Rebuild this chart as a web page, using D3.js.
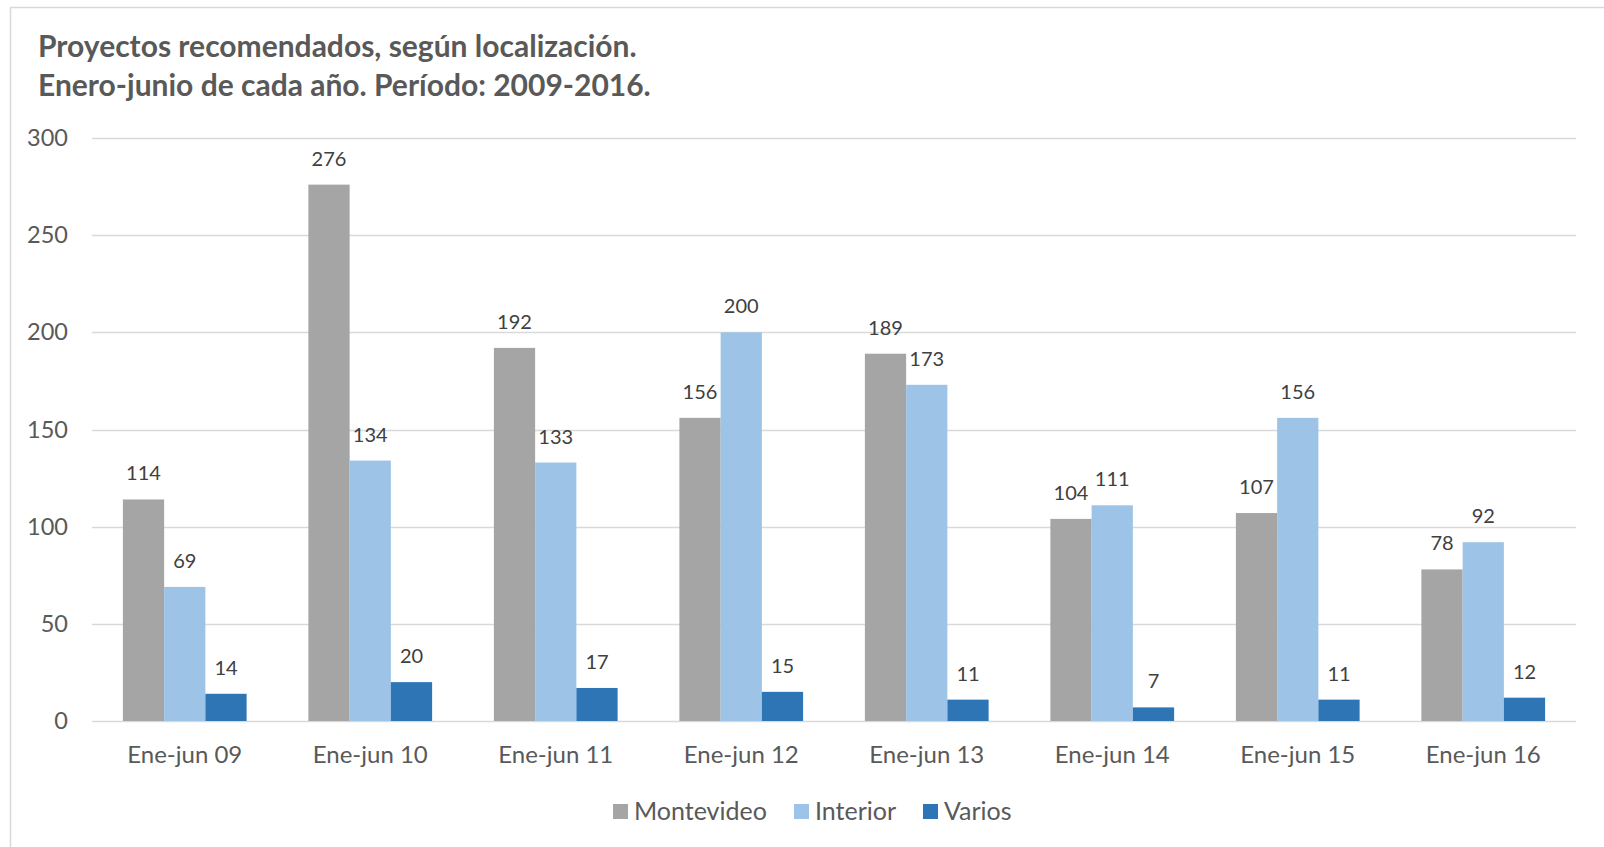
<!DOCTYPE html>
<html>
<head>
<meta charset="utf-8">
<script src="https://cdn.jsdelivr.net/npm/d3@7"></script>
<style>
  body { margin: 0; background: #fff; }
  svg { display: block; font-family: Lato, "Open Sans", sans-serif; }
</style>
</head>
<body>
<svg id="chart" width="1604" height="847"></svg>
<script>
"use strict";

const categories = ["Ene-jun 09", "Ene-jun 10", "Ene-jun 11", "Ene-jun 12", "Ene-jun 13", "Ene-jun 14", "Ene-jun 15", "Ene-jun 16"];
const seriesNames = ["Montevideo", "Interior", "Varios"];
const montevideo = [114, 276, 192, 156, 189, 104, 107, 78];
const interior = [69, 134, 133, 200, 173, 111, 156, 92];
const varios = [14, 20, 17, 15, 11, 7, 11, 12];
const yTicks = [0, 50, 100, 150, 200, 250, 300];
const titleLines = ["Proyectos recomendados, según localización.", "Enero-junio de cada año. Período: 2009-2016."];

const colors = ["#A5A5A5", "#9DC3E6", "#2E75B6"];
const seriesValues = [montevideo, interior, varios];

let svg = d3.select("#chart"),
  margin = {top: 138, right: 28, bottom: 126, left: 92},
  width = 1604 - margin.left - margin.right,
  height = 847 - margin.top - margin.bottom
;

// chart frame (runs off the right / bottom edges in the original)
svg.append("rect")
  .attr("x", 10.5).attr("y", 7.5)
  .attr("width", 1700).attr("height", 900)
  .attr("fill", "#fff")
  .attr("stroke", "#D9D9D9")
  .attr("stroke-width", 1.5);

svg.append("g").selectAll("text")
  .data(titleLines)
  .enter()
  .append("text")
  .attr("x", 38)
  .attr("y", (d, i) => 57 + i * 39)
  .attr("fill", "#595959")
  .attr("font-size", 30)
  .attr("font-weight", "bold")
  .text(d => d);

let g = svg.append("g").attr("transform", "translate(" + margin.left + "," + margin.top + ")");

let x0 = d3.scaleBand().domain(categories).range([0, width]).paddingInner(0.333).paddingOuter(0.1665),
  x1 = d3.scaleBand().domain(seriesNames).range([0, x0.bandwidth()]),
  y = d3.scaleLinear().domain([0, 300]).range([height, 0])
;

// gridlines
g.append("g")
  .selectAll("line")
  .data(yTicks)
  .enter()
  .append("line")
  .attr("x1", 0).attr("x2", width)
  .attr("y1", d => Math.round(y(d)) + 0.5)
  .attr("y2", d => Math.round(y(d)) + 0.5)
  .attr("stroke", "#D9D9D9")
  .attr("stroke-width", 1.5);

// y axis labels
let yAxis = g.append("g")
  .call(d3.axisLeft(y).tickValues(yTicks).tickSize(0).tickPadding(24));
yAxis.select(".domain").remove();
yAxis.selectAll("text")
  .attr("fill", "#595959")
  .attr("font-size", 23.5)
  .attr("font-family", "Lato, sans-serif");

// x axis labels
let xAxis = g.append("g")
  .attr("transform", "translate(0," + height + ")")
  .call(d3.axisBottom(x0).tickSize(0).tickPadding(25));
xAxis.select(".domain").remove();
xAxis.selectAll("text")
  .attr("fill", "#595959")
  .attr("font-size", 24)
  .attr("font-family", "Lato, sans-serif");

let groups = g.append("g")
  .selectAll("g")
  .data(categories)
  .enter()
  .append("g")
  .attr("transform", d => "translate(" + x0(d) + ",0)");

groups.selectAll("rect")
  .data((c, i) => seriesNames.map((s, k) => ({series: s, k: k, value: seriesValues[k][i]})))
  .enter()
  .append("rect")
  .attr("x", d => x1(d.series))
  .attr("y", d => y(d.value))
  .attr("width", x1.bandwidth())
  .attr("height", d => y(0) - y(d.value))
  .attr("fill", d => colors[d.k]);

groups.selectAll("text")
  .data((c, i) => seriesNames.map((s, k) => ({series: s, k: k, value: seriesValues[k][i]})))
  .enter()
  .append("text")
  .attr("x", d => x1(d.series) + x1.bandwidth() / 2)
  .attr("y", d => y(d.value) - 19)
  .attr("text-anchor", "middle")
  .attr("fill", "#404040")
  .attr("font-size", 20)
  .text(d => d.value);

// legend
let legendX = [613, 794, 923];
let legend = svg.append("g")
  .selectAll("g")
  .data(seriesNames)
  .enter()
  .append("g")
  .attr("transform", (d, i) => "translate(" + legendX[i] + ",804)");

legend.append("rect")
  .attr("width", 15).attr("height", 15)
  .attr("fill", (d, i) => colors[i]);

legend.append("text")
  .attr("x", 21)
  .attr("y", 16)
  .attr("fill", "#595959")
  .attr("font-size", 25)
  .text(d => d);
</script>
</body>
</html>
